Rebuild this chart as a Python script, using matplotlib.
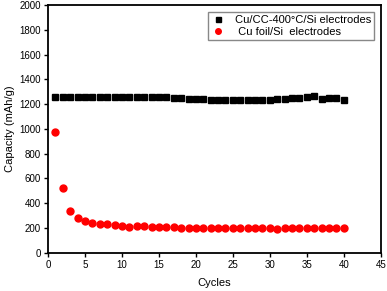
import matplotlib
matplotlib.use("Agg")
import matplotlib.pyplot as plt

plt.rcParams['font.family'] = ['Liberation Sans', 'DejaVu Sans']

cycles = list(range(1, 41))
cc_si = [1255, 1257, 1258, 1258, 1258, 1259, 1259, 1259, 1258, 1258,
         1257, 1257, 1256, 1256, 1255, 1254, 1253, 1248, 1244, 1242,
         1238, 1236, 1235, 1234, 1234, 1234, 1234, 1235, 1236, 1237,
         1240, 1244, 1248, 1252, 1258, 1266, 1243, 1248, 1252, 1232]
foil_si = [978, 522, 341, 285, 258, 245, 236, 230, 225, 220,
           212, 213, 213, 212, 210, 208, 205, 203, 200, 200,
           197, 200, 201, 201, 201, 201, 201, 200, 200, 200,
           195, 198, 199, 200, 201, 201, 201, 201, 201, 200]

fig = plt.figure(figsize=(3.87, 2.91), dpi=100)
ax = fig.add_axes([0.124, 0.131, 0.86, 0.852])

ax.plot(cycles, cc_si, 's', color='black', markersize=4.5, linestyle='none',
        label="Cu/CC-400\u00b0C/Si electrodes")
ax.plot(cycles, foil_si, 'o', color='red', markersize=5, linestyle='none',
        label=" Cu foil/Si  electrodes")

ax.set_xlim(0, 45)
ax.set_ylim(0, 2000)
ax.set_xticks(range(0, 46, 5))
ax.set_yticks(range(0, 2001, 200))
ax.tick_params(direction='out', labelsize=7, length=3, width=1, pad=2)
for s in ax.spines.values():
    s.set_linewidth(1.3)
ax.set_xlabel("Cycles", fontsize=8, labelpad=6)
ax.set_ylabel("Capacity (mAh/g)", fontsize=8, labelpad=3)
ax.legend(loc='upper right', fontsize=8, fancybox=False, edgecolor='#888888',
          handletextpad=0.9, borderpad=0.3, labelspacing=0.15, handlelength=1.2,
          markerscale=0.8, framealpha=1, borderaxespad=0.6)

fig.savefig("out.png", dpi=100)
